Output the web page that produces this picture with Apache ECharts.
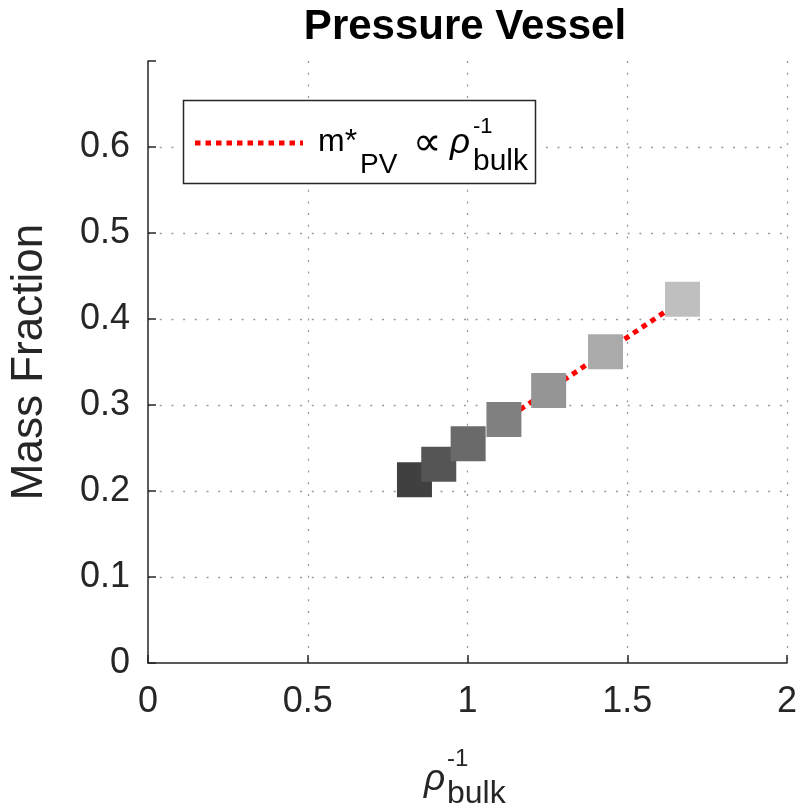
<!DOCTYPE html>
<html><head><meta charset="utf-8">
<script src="https://cdn.jsdelivr.net/npm/echarts@6/dist/echarts.min.js"></script>
<style>html,body{margin:0;padding:0;background:#fff}#c{width:807px;height:809px}</style>
</head><body><div id="c"></div>
<script>
const chartTitle = 'Pressure Vessel';
const yAxisTitle = 'Mass Fraction';
const xTicks = [0, 0.5, 1, 1.5, 2];
const yTicks = [0, 0.1, 0.2, 0.3, 0.4, 0.5, 0.6];
const rhoInv = [0.834, 0.910, 1.002, 1.114, 1.254, 1.432, 1.673];
const massFraction = [0.213, 0.231, 0.255, 0.283, 0.317, 0.362, 0.423];
const fitX = [1.11, 1.673];
const fitY = [0.281, 0.422];
const markerShades = ['#404040', '#555555', '#6a6a6a', '#808080', '#959595', '#aaaaaa', '#bfbfbf'];

const FONT = '"Liberation Sans", Arial, Helvetica, sans-serif';
const chart = echarts.init(document.getElementById('c'), null, {renderer: 'canvas'});

function fmt(v, ticks) {
  const hit = ticks.find(t => Math.abs(t - v) < 1e-9);
  return hit === undefined ? '' : String(hit);
}
const gridLine = {show: true, showMinLine: false, lineStyle: {color: '#9a9a9a', width: 1.3, type: [2, 9.7]}};
const axisCommon = {
  axisLine: {show: true, onZero: false, lineStyle: {color: '#262626', width: 1.5}},
  axisTick: {show: true, inside: true, length: 8, lineStyle: {color: '#262626', width: 1.5}},
};
function txt(x, y, text, size, opts) {
  return Object.assign({
    type: 'text', x: x, y: y, z: 101,
    style: Object.assign({text: text, fontSize: size, fontFamily: FONT, fill: '#000', align: 'left', verticalAlign: 'middle'}, opts || {})
  });
}

chart.setOption({
  animation: false,
  backgroundColor: '#fff',
  title: {
    text: chartTitle, left: 465, top: 6, textAlign: 'center', padding: 0,
    textStyle: {fontSize: 42, fontWeight: 'bold', fontFamily: FONT, color: '#000'}
  },
  grid: {left: 147, right: 20, top: 61, bottom: 146, containLabel: false},
  xAxis: Object.assign({
    type: 'value', min: 0, max: 2, interval: 0.5,
    axisLabel: {fontSize: 36, fontFamily: FONT, color: '#262626', margin: 21, formatter: v => fmt(v, xTicks)},
    splitLine: Object.assign({}, gridLine, {showMaxLine: true})
  }, axisCommon),
  yAxis: Object.assign({
    type: 'value', min: 0, max: 0.7, interval: 0.1,
    name: yAxisTitle, nameLocation: 'middle', nameGap: 96, nameRotate: 90,
    nameTextStyle: {fontSize: 44, fontFamily: FONT, color: '#262626'},
    axisLabel: {fontSize: 36, fontFamily: FONT, color: '#262626', margin: 18, formatter: v => fmt(v, yTicks)},
    splitLine: Object.assign({}, gridLine, {showMaxLine: false})
  }, axisCommon),
  series: [
    {
      type: 'line', name: 'fit', data: fitX.map((x, i) => [x, fitY[i]]),
      symbol: 'none', z: 2,
      lineStyle: {color: '#ff0000', width: 5, type: [5.5, 5]}
    },
    {
      type: 'scatter', name: 'points', symbol: 'rect', symbolSize: 35, z: 3,
      data: rhoInv.map((x, i) => ({value: [x, massFraction[i]], itemStyle: {color: markerShades[i], opacity: 1}}))
    }
  ],
  graphic: [
    {type: 'rect', z: 100, shape: {x: 183.5, y: 100.5, width: 352, height: 83}, style: {fill: '#fff', stroke: '#262626', lineWidth: 1.5}},
    {type: 'line', z: 101, shape: {x1: 195, y1: 143, x2: 303, y2: 143}, style: {stroke: '#ff0000', lineWidth: 5, lineDash: [5.5, 5]}},
    txt(318, 141.8, 'm*', 32),
    txt(360, 165.2, 'PV', 28),
    txt(413, 145, '\u221D', 40, {fontFamily: '"DejaVu Sans", sans-serif'}),
    txt(450, 143, '\u03C1', 35, {fontStyle: 'italic'}),
    txt(473, 127.3, '-1', 22),
    txt(473, 161.5, 'bulk', 30),
    txt(424, 780, '\u03C1', 37, {fontStyle: 'italic', fill: '#262626'}),
    txt(447, 759.5, '-1', 24, {fill: '#262626'}),
    txt(447, 793.8, 'bulk', 32, {fill: '#262626'})
  ]
});
</script></body></html>
